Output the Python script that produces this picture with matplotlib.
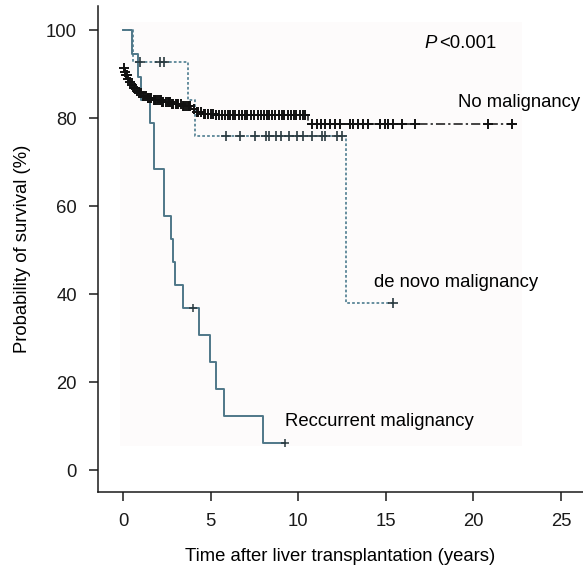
import matplotlib
matplotlib.use("Agg")
import matplotlib.pyplot as plt
from matplotlib.patches import Rectangle

plt.rcParams['font.family'] = ['Liberation Sans', 'DejaVu Sans']

# ---- data ----
# No malignancy: step times and survival (%)
nomal_t = [0.00, 0.08, 0.15, 0.25, 0.35, 0.45, 0.60, 0.75, 0.90, 1.10, 1.35, 1.70,
           2.20, 2.80, 3.40, 3.90, 4.15, 4.60, 5.20, 10.55]
nomal_s = [91.5, 90.5, 89.8, 89.0, 88.3, 87.6, 87.0, 86.3, 85.7, 85.1, 84.6, 84.2,
           83.8, 83.3, 82.9, 82.2, 81.4, 81.0, 80.7, 78.8]
nomal_end = 22.4
nomal_cens = [0.05, 0.1, 0.15, 0.2, 0.3, 0.4, 0.5, 0.6, 0.7, 0.8, 0.9, 0.95, 1.05,
              1.15, 1.2, 1.3, 1.4, 1.45, 1.55, 1.6, 1.75, 1.85, 1.9, 2.0, 2.1, 2.15,
              2.25, 2.3, 2.45, 2.55, 2.6, 2.7, 2.8, 2.85, 3.0, 3.1, 3.15, 3.3, 3.4,
              3.5, 3.6, 3.7, 3.75, 3.85, 4.05, 4.2, 4.3, 4.45, 4.6, 4.7, 4.85, 5.0,
              5.15, 5.3, 5.5, 5.65, 5.8, 6.0, 6.1, 6.25, 6.4, 6.6, 6.8, 6.95, 7.1,
              7.3, 7.5, 7.7, 7.9, 8.05, 8.2, 8.35, 8.5, 8.7, 8.9, 9.05, 9.2, 9.4,
              9.6, 9.75, 9.9, 10.1, 10.25, 10.4,
              10.77, 11.05, 11.28, 11.52, 11.8, 12.1, 12.4, 12.95, 13.15, 13.43,
              13.7, 14.0, 14.67, 14.95, 15.14, 15.43, 15.9, 16.67, 20.85, 22.18]

# de novo malignancy
denovo_t = [0.0, 0.55, 3.73, 4.10, 12.73]
denovo_s = [100.0, 92.9, 84.2, 75.9, 38.0]
denovo_end = 15.4
denovo_cens = [0.97, 2.1, 2.35, 5.9, 6.68, 7.53, 8.16, 8.35, 8.71, 9.02, 9.49,
               9.95, 10.3, 10.77, 11.33, 11.5, 12.2, 12.5, 15.4]

# Recurrent malignancy
recur_t = [0.0, 0.53, 0.87, 1.0, 1.55, 1.75, 2.34, 2.72, 2.87, 2.95, 3.44, 4.34,
           4.97, 5.31, 5.77, 7.97]
recur_s = [100.0, 94.7, 89.5, 84.2, 78.9, 68.4, 57.9, 52.6, 47.4, 42.1, 36.8,
           30.7, 24.6, 18.4, 12.3, 6.1]
recur_end = 9.25
recur_cens = [4.0, 9.25]

x_ticks = [0, 5, 10, 15, 20, 25]
y_ticks = [0, 20, 40, 60, 80, 100]


def step_value(ts, ss, x):
    v = ss[0]
    for t, s in zip(ts, ss):
        if x >= t:
            v = s
    return v


fig = plt.figure(figsize=(5.83, 5.71), dpi=100)
ax = fig.add_axes([0.168, 0.138, 0.832, 0.851])

ax.add_patch(Rectangle((-0.15, 5.5), 22.9, 96.5, facecolor='#fdfbfb',
                       edgecolor='none', zorder=0))

blue = '#4f7788'
dotted_col = '#5a8597'
black = '#111111'

# no malignancy
ax.step(nomal_t + [nomal_end], nomal_s + [nomal_s[-1]], where='post',
        color=black, lw=1.1, linestyle=(0, (6, 2, 1.5, 2)), zorder=3)
ax.plot(nomal_cens, [step_value(nomal_t, nomal_s, c) for c in nomal_cens],
        linestyle='none', marker='+', ms=7, mew=1.4, color=black, zorder=4)

# de novo
ax.step(denovo_t + [denovo_end], denovo_s + [denovo_s[-1]], where='post',
        color=dotted_col, lw=1.3, linestyle=(0, (1.5, 1.2)), zorder=2)
ax.plot(denovo_cens, [step_value(denovo_t, denovo_s, c) for c in denovo_cens],
        linestyle='none', marker='+', ms=7, mew=1.2, color='#2a3a40', zorder=4)

# recurrent
ax.step(recur_t + [recur_end], recur_s + [recur_s[-1]], where='post',
        color=blue, lw=1.4, zorder=2)
ax.plot(recur_cens, [step_value(recur_t, recur_s, c) for c in recur_cens],
        linestyle='none', marker='+', ms=6, mew=1.1, color='#2a3a40', zorder=4)

fs = 13.3
ax.text(17.2, 97, 'P', fontsize=fs, style='italic', ha='left', va='center')
ax.text(18.05, 97, '<0.001', fontsize=fs, ha='left', va='center')
ax.text(19.1, 83.7, 'No malignancy', fontsize=fs, ha='left', va='center')
ax.text(14.3, 42.7, 'de novo malignancy', fontsize=fs, ha='left', va='center')
ax.text(9.25, 11.0, 'Reccurrent malignancy', fontsize=fs, ha='left', va='center')

ax.set_xlim(-1.43, 26.25)
ax.set_ylim(-5, 105.5)
ax.set_xticks(x_ticks)
ax.set_yticks(y_ticks)
ax.tick_params(direction='out', length=6.5, width=1.1, labelsize=fs, pad=8.5,
               colors='#1a1a1a')
for sp in ['top', 'right']:
    ax.spines[sp].set_visible(False)
for sp in ['left', 'bottom']:
    ax.spines[sp].set_linewidth(1.1)
    ax.spines[sp].set_color('#1a1a1a')
ax.set_xlabel('Time after liver transplantation (years)', fontsize=fs, labelpad=13)
ax.set_ylabel('Probability of survival (%)', fontsize=fs, labelpad=11)

fig.savefig('out.png', dpi=100)
